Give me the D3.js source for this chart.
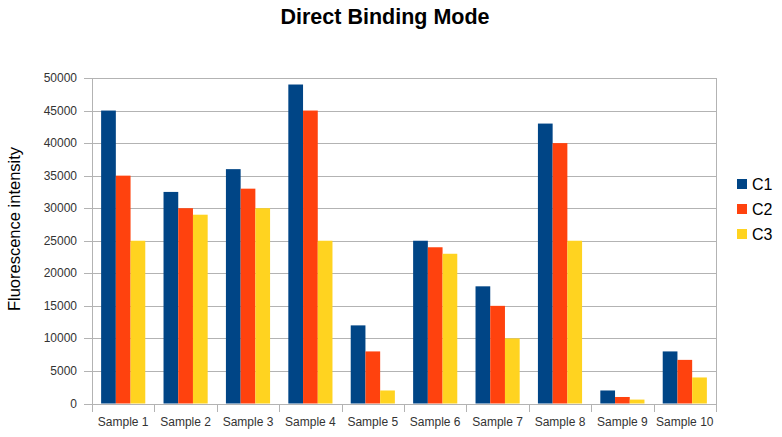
<!DOCTYPE html>
<html>
<head>
<meta charset="utf-8">
<script src="https://cdn.jsdelivr.net/npm/d3@7"></script>
<style>
  html, body { margin: 0; padding: 0; background: #fff; }
  svg { display: block; font-family: "Liberation Sans", Arial, sans-serif; }
</style>
</head>
<body>
<svg id="chart" width="782" height="437"></svg>
<script>
const categories = ["Sample 1","Sample 2","Sample 3","Sample 4","Sample 5","Sample 6","Sample 7","Sample 8","Sample 9","Sample 10"];
const seriesNames = ["C1","C2","C3"];
const c1 = [45000, 32500, 36000, 49000, 12000, 25000, 18000, 43000, 2000, 8000];
const c2 = [35000, 30000, 33000, 45000, 8000, 24000, 15000, 40000, 1000, 6700];
const c3 = [25000, 29000, 30000, 25000, 2000, 23000, 10000, 25000, 600, 4000];
const yTicks = [0,5000,10000,15000,20000,25000,30000,35000,40000,45000,50000];
const colors = ["#004586", "#ff420e", "#ffd320"];
const title = "Direct Binding Mode";
const yLabel = "Fluorescence intensity";

const series = [c1, c2, c3];
const svg = d3.select("#chart");
const mLeft = 92, mRight = 716, mTop = 78, mBottom = 403.5;

const x = d3.scaleBand().domain(categories).range([mLeft, mRight]).paddingInner(0).paddingOuter(0);
const xInner = d3.scaleBand().domain(seriesNames).range([0, x.bandwidth()]).paddingInner(0).paddingOuter(0.62);
const y = d3.scaleLinear().domain([0, 50000]).range([mBottom, mTop]);

// gridlines
svg.append("g").selectAll("line").data(yTicks).join("line")
  .attr("x1", mLeft - 8).attr("x2", mRight)
  .attr("y1", d => Math.round(y(d)) + 0.5).attr("y2", d => Math.round(y(d)) + 0.5)
  .attr("stroke", "#b3b3b3").attr("stroke-width", 1);

// right border
svg.append("line").attr("x1", mRight + 0.5).attr("x2", mRight + 0.5)
  .attr("y1", mTop).attr("y2", mBottom + 7).attr("stroke", "#b3b3b3");

// bars
const groups = svg.append("g").selectAll("g").data(categories).join("g")
  .attr("transform", d => `translate(${x(d)},0)`);
groups.selectAll("rect").data((d, i) => series.map((s, k) => ({ name: seriesNames[k], v: s[i], k })))
  .join("rect")
  .attr("x", d => xInner(d.name))
  .attr("width", xInner.bandwidth())
  .attr("y", d => y(d.v))
  .attr("height", d => y(0) - y(d.v))
  .attr("fill", d => colors[d.k]);

// x axis with category boundary ticks
const xAxisG = svg.append("g");
xAxisG.append("line").attr("x1", mLeft).attr("x2", mRight).attr("y1", Math.round(mBottom) + 0.5).attr("y2", Math.round(mBottom) + 0.5).attr("stroke", "#b3b3b3");
const bounds = categories.map(c => x(c)).concat([mRight]);
xAxisG.selectAll("line.tk").data(bounds).join("line").attr("class", "tk")
  .attr("x1", d => Math.round(d) + 0.5).attr("x2", d => Math.round(d) + 0.5)
  .attr("y1", Math.round(mBottom)).attr("y2", Math.round(mBottom) + 8)
  .attr("stroke", "#b3b3b3");
xAxisG.selectAll("text").data(categories).join("text")
  .attr("x", d => x(d) + x.bandwidth() / 2)
  .attr("y", 426)
  .attr("text-anchor", "middle")
  .attr("font-size", 12)
  .attr("fill", "#333")
  .text(d => d);

// y axis line
svg.append("line").attr("x1", mLeft + 0.5).attr("x2", mLeft + 0.5)
  .attr("y1", mTop).attr("y2", mBottom + 8).attr("stroke", "#b3b3b3");

// y tick labels
svg.append("g").selectAll("text").data(yTicks).join("text")
  .attr("x", 77).attr("y", d => y(d) + 4)
  .attr("text-anchor", "end")
  .attr("font-size", 12)
  .attr("fill", "#333")
  .text(d => d);

// title
svg.append("text").attr("x", 385).attr("y", 24)
  .attr("text-anchor", "middle").attr("font-size", 21.5).attr("font-weight", "bold")
  .attr("fill", "#000").text(title);

// y label
svg.append("text").attr("transform", "translate(20,229) rotate(-90)")
  .attr("text-anchor", "middle").attr("font-size", 16.5).attr("fill", "#000")
  .text(yLabel);

// legend
const lg = svg.append("g").selectAll("g").data(seriesNames).join("g")
  .attr("transform", (d, i) => `translate(737,${184 + i * 25})`);
lg.append("rect").attr("x", 0).attr("y", -5).attr("width", 10).attr("height", 10)
  .attr("fill", (d, i) => colors[i]);
lg.append("text").attr("x", 15).attr("y", 6).attr("font-size", 16).attr("fill", "#000").text(d => d);
</script>
</body>
</html>
